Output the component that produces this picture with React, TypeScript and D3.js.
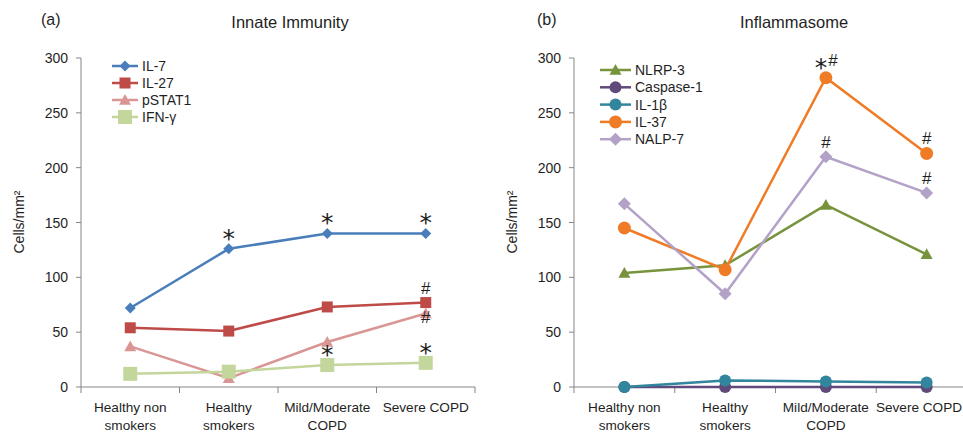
import React from "react";
import * as d3 from "d3";

// categories shared by both panels
const categories = ["Healthy non smokers", "Healthy smokers", "Mild/Moderate COPD", "Severe COPD"];
const catLines = [["Healthy non", "smokers"], ["Healthy", "smokers"], ["Mild/Moderate", "COPD"], ["Severe COPD"]];
const yTicks = [0, 50, 100, 150, 200, 250, 300];

// panel (a) Innate Immunity
const il7 = [72, 126, 140, 140];
const il27 = [54, 51, 73, 77];
const pstat1 = [37, 8, 41, 67];
const ifng = [12, 14, 20, 22];

// panel (b) Inflammasome
const nlrp3 = [104, 111, 166, 121];
const caspase1 = [0, 0, 0, 0];
const il1b = [0, 6, 5, 4];
const il37 = [145, 107, 282, 213];
const nalp7 = [167, 85, 210, 177];

const seriesA = [
  { name: "IL-7", values: il7, color: "#4a7ebb", shape: "diamond", size: 11 },
  { name: "IL-27", values: il27, color: "#be4b48", shape: "square", size: 11 },
  { name: "pSTAT1", values: pstat1, color: "#da9694", shape: "triangle", size: 12 },
  { name: "IFN-γ", values: ifng, color: "#c3d69b", shape: "square", size: 14 },
];
const seriesB = [
  { name: "NLRP-3", values: nlrp3, color: "#77933c", shape: "triangle", size: 12 },
  { name: "Caspase-1", values: caspase1, color: "#604a7b", shape: "circle", size: 12 },
  { name: "IL-1β", values: il1b, color: "#31859c", shape: "circle", size: 12 },
  { name: "IL-37", values: il37, color: "#f07b26", shape: "circle", size: 13 },
  { name: "NALP-7", values: nalp7, color: "#b3a2c7", shape: "diamond", size: 13 },
];

// significance marks: [series index, category index, text]
const marksA: [number, number, string][] = [
  [0, 1, "*"], [0, 2, "*"], [0, 3, "*"],
  [1, 3, "#"], [2, 3, "#"],
  [3, 2, "*"], [3, 3, "*"],
];
const marksB: [number, number, string][] = [
  [3, 2, "*#"], [3, 3, "#"], [4, 2, "#"], [4, 3, "#"],
];

const FONT = "'Liberation Sans', Arial, sans-serif";
const TXT = "#1f1f1f";
const AXIS = "#868686";
const W = 963;

function Marker({ shape, x, y, size, color }: any) {
  const h = size / 2;
  if (shape === "diamond")
    return <path d={`M${x},${y - h}L${x + h},${y}L${x},${y + h}L${x - h},${y}Z`} fill={color} />;
  if (shape === "square")
    return <rect x={x - h} y={y - h} width={size} height={size} fill={color} />;
  if (shape === "triangle")
    return <path d={`M${x},${y - h}L${x + h},${y + h * 0.8}L${x - h},${y + h * 0.8}Z`} fill={color} />;
  return <circle cx={x} cy={y} r={h} fill={color} />;
}

function Star({ x, y }: any) {
  return (
    <text x={x} y={y} fontSize={25} fill={TXT} textAnchor="middle" fontFamily="'DejaVu Sans', sans-serif">
      *
    </text>
  );
}

function Panel({ ox, axisEnd, label, title, titleX, series, marks, legendX, legendY, legendStep, lineW, pstatHash }: any) {
  const x = d3.scaleBand<string>().domain(categories).range([ox, axisEnd]).padding(0);
  const y = d3.scaleLinear().domain([0, 300]).range([387, 58]);
  const cx = (c: string) => (x(c) as number) + x.bandwidth() / 2;
  const line = d3
    .line<number>()
    .x((_, i) => cx(categories[i]))
    .y((d) => y(d));
  const bounds = [...categories.map((c) => x(c) as number), axisEnd];
  return (
    <g fontFamily={FONT}>
      <text x={label[1]} y={25} fontSize={16} fill={TXT}>{label[0]}</text>
      <text x={titleX} y={28} fontSize={16.5} fill={TXT} textAnchor="middle">{title}</text>
      {/* y axis */}
      <line x1={ox} x2={ox} y1={y(300)} y2={y(0)} stroke={AXIS} />
      {yTicks.map((t) => (
        <g key={t}>
          <line x1={ox - 5} x2={ox} y1={y(t)} y2={y(t)} stroke={AXIS} />
          <text x={ox - 13} y={y(t) + 5} fontSize={14} fill={TXT} textAnchor="end">{t}</text>
        </g>
      ))}
      <text transform={`translate(${ox - 57},${222}) rotate(-90)`} fontSize={14} fill={TXT} textAnchor="middle">
        Cells/mm²
      </text>
      {/* x axis */}
      <line x1={ox} x2={axisEnd} y1={y(0)} y2={y(0)} stroke={AXIS} />
      {bounds.map((b, i) => (
        <line key={i} x1={b} x2={b} y1={y(0)} y2={y(0) + 6} stroke={AXIS} />
      ))}
      {categories.map((c, i) => {
        // keep the last label inside the picture
        const tx = Math.min(cx(c), W - 44);
        return (
          <text key={c} x={tx} y={412} fontSize={13.6} fill={TXT} textAnchor="middle">
            {catLines[i].map((l, j) => (
              <tspan key={j} x={tx} dy={j === 0 ? 0 : 18}>{l}</tspan>
            ))}
          </text>
        );
      })}
      {/* series */}
      {series.map((s: any) => (
        <g key={s.name}>
          <path d={line(s.values) as string} fill="none" stroke={s.color} strokeWidth={2.5} />
          {s.values.map((v: number, i: number) => (
            <Marker key={i} shape={s.shape} x={cx(categories[i])} y={y(v)} size={s.size} color={s.color} />
          ))}
        </g>
      ))}
      {/* significance marks */}
      {marks.map(([si, ci, t]: [number, number, string], k: number) => {
        const v = series[si].values[ci];
        const px = cx(categories[ci]);
        const py = y(v);
        if (t === "*") return <Star key={k} x={px} y={py - 2} />;
        if (t === "*#")
          return (
            <g key={k}>
              <Star x={px - 5} y={py - 2} />
              <text x={px + 7} y={py - 12} fontSize={17} fill={TXT} textAnchor="middle">#</text>
            </g>
          );
        const hy = pstatHash && si === 2 ? py + 9 : py - 9;
        return (
          <text key={k} x={px} y={hy} fontSize={17} fill={TXT} textAnchor="middle">#</text>
        );
      })}
      {/* legend */}
      {series.map((s: any, i: number) => {
        const ly = legendY + i * legendStep;
        return (
          <g key={s.name}>
            <line x1={legendX} x2={legendX + lineW} y1={ly} y2={ly} stroke={s.color} strokeWidth={2.5} />
            <Marker shape={s.shape} x={legendX + lineW / 2} y={ly} size={s.size} color={s.color} />
            <text x={legendX + lineW + 4} y={ly + 5} fontSize={14} fill={TXT}>{s.name}</text>
          </g>
        );
      })}
    </g>
  );
}

export default function App() {
  return (
    <svg width={W} height={433} style={{ position: "absolute", left: 0, top: 0, background: "#fff" }}>
      <Panel
        ox={81}
        axisEnd={475}
        label={["(a)", 41]}
        title="Innate Immunity"
        titleX={290}
        series={seriesA}
        marks={marksA}
        legendX={112}
        legendY={66}
        legendStep={17}
        lineW={26}
        pstatHash
      />
      <Panel
        ox={574}
        axisEnd={977}
        label={["(b)", 537]}
        title="Inflammasome"
        titleX={794}
        series={seriesB}
        marks={marksB}
        legendX={600}
        legendY={70}
        legendStep={17.3}
        lineW={31}
      />
    </svg>
  );
}
